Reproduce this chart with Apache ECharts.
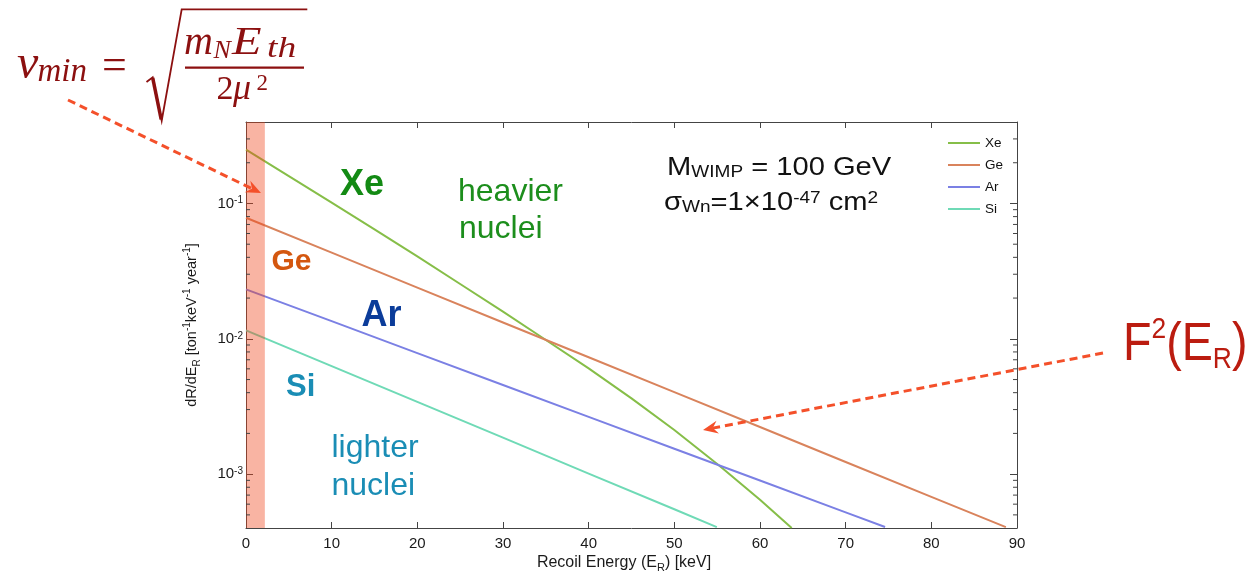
<!DOCTYPE html>
<html>
<head>
<meta charset="utf-8">
<script src="https://cdn.jsdelivr.net/npm/echarts@6/dist/echarts.min.js"></script>
<style>
  html, body { margin: 0; padding: 0; background: #fff; }
  #chart { width: 1260px; height: 575px; }
</style>
</head>
<body>
<div id="chart"></div>
<script>
// Differential WIMP recoil rate (M_WIMP = 100 GeV, sigma = 1e-47 cm^2)
// Recoil energy in keV, rate in events / (ton keV year)
const xeEnergy = [0, 5, 10, 15, 20, 25, 30, 34.7, 40, 45, 50, 55.3, 60, 63.7];
const xeRate   = [0.250, 0.159, 0.1015, 0.0643, 0.0406, 0.0254, 0.0159, 0.0101, 0.00605, 0.00363, 0.00212, 0.00115, 0.000648, 0.000400];

const geEnergy = [0, 10, 20, 30, 40, 50, 60, 70, 80, 88.7];
const geRate   = [0.0784, 0.0433, 0.0239, 0.0132, 0.00731, 0.00404, 0.00223, 0.00123, 0.00068, 0.000406];

const arEnergy = [0, 10, 20, 30, 40, 50, 60, 70, 74.6];
const arRate   = [0.0232, 0.0135, 0.00784, 0.00456, 0.00265, 0.00154, 0.000897, 0.000522, 0.000407];

const siEnergy = [0, 10, 20, 30, 40, 50, 54.96];
const siRate   = [0.01155, 0.00628, 0.00342, 0.00186, 0.00101, 0.00055, 0.000406];

// Threshold band (keV)
const thresholdBand = [0, 2.2];

// Axes
const xRange = [0, 90];
const xStep = 10;
const yRange = [4e-4, 0.4];
const minorTicks = [5e-4, 6e-4, 7e-4, 8e-4, 9e-4,
                    2e-3, 3e-3, 4e-3, 5e-3, 6e-3, 7e-3, 8e-3, 9e-3,
                    2e-2, 3e-2, 4e-2, 5e-2, 6e-2, 7e-2, 8e-2, 9e-2,
                    2e-1, 3e-1];

const seriesNames = ['Xe', 'Ge', 'Ar', 'Si'];
const seriesColors = ['#86be48', '#d9835c', '#7b80e4', '#6fdab6'];

const SANS = '"Liberation Sans", Arial, Helvetica, sans-serif';
const SERIF = '"Liberation Serif", "Times New Roman", serif';
const AXIS = '#444';
const ARROW = '#f4502a';
const FORMULA = '#8c1010';

const pairs = (xs, ys) => xs.map((x, i) => [x, ys[i]]);

function lineSeries(name, xs, ys, color) {
  return {
    name, type: 'line', data: pairs(xs, ys),
    symbol: 'none', smooth: false, z: 2,
    lineStyle: { color, width: 2, join: 'round' }, itemStyle: { color },
    silent: true
  };
}

// baseline -> middle of the em box, for canvas 'middle' drawing
const mid = (baseline, size) => baseline - 0.34 * size;

function txt(text, x, baseline, size, fill, bold) {
  return {
    type: 'text', x, y: mid(baseline, size), z: 100, silent: true,
    style: {
      text, fill, fontSize: size, fontFamily: SANS, lineHeight: size,
      fontWeight: bold ? 'bold' : 'normal',
      align: 'left', verticalAlign: 'middle'
    }
  };
}

function arrow(x1, y1, x2, y2) {
  const dx = x2 - x1, dy = y2 - y1, L = Math.hypot(dx, dy);
  const ux = dx / L, uy = dy / L, px = -uy, py = ux;
  const head = 15, half = 6.5, notch = 10;
  return [
    { type: 'line', z: 100, silent: true,
      shape: { x1, y1, x2: x2 - ux * notch, y2: y2 - uy * notch },
      style: { stroke: ARROW, lineWidth: 3, lineDash: [8, 5] } },
    { type: 'polygon', z: 100, silent: true,
      shape: { points: [
        [x2, y2],
        [x2 - ux * head + px * half, y2 - uy * head + py * half],
        [x2 - ux * notch, y2 - uy * notch],
        [x2 - ux * head - px * half, y2 - uy * head - py * half]
      ] },
      style: { fill: ARROW } }
  ];
}

function serif(text, x, baseline, size, italic, scaleX) {
  return {
    type: 'text', x, y: mid(baseline, size), z: 100, silent: true, scaleX: scaleX || 1,
    style: { text, fill: FORMULA, fontSize: size, fontFamily: SERIF,
             fontStyle: italic ? 'italic' : 'normal', lineHeight: size,
             align: 'left', verticalAlign: 'middle' }
  };
}

const graphic = [
  // v_min = sqrt(m_N E_th / 2 mu^2)
  serif('v', 17, 81.7, 48, true),
  serif('min', 37.5, 83.5, 33, true),
  serif('=', 102, 82, 44, false),
  { type: 'polyline', z: 100, silent: true,
    shape: { points: [[146.5, 82], [152.7, 77.3], [161.7, 120.7], [181.7, 9.3], [307.3, 9.3]] },
    style: { stroke: FORMULA, lineWidth: 1.8, fill: null, lineJoin: 'miter' } },
  { type: 'line', z: 100, silent: true,
    shape: { x1: 152.7, y1: 77.8, x2: 161.2, y2: 119.5 },
    style: { stroke: FORMULA, lineWidth: 3.5 } },
  serif('m', 184, 56.7, 40, true),
  serif('N', 213.5, 60.5, 26, true),
  serif('E', 232, 56.7, 41, true, 1.18),
  serif('th', 267, 59.5, 30, true, 1.25),
  { type: 'rect', z: 100, silent: true,
    shape: { x: 185, y: 66.6, width: 119, height: 2.2 }, style: { fill: FORMULA } },
  serif('2', 216.5, 101.7, 34, false),
  serif('\u03bc', 233, 101.7, 36, true),
  serif('2', 256.5, 91.5, 23, false),

  // arrows
  ...arrow(68, 100, 261, 193),
  ...arrow(1103, 353, 703, 430),

  // F^2(E_R)
  { type: 'text', x: 1123, y: 314.9, z: 100, silent: true, scaleX: 0.88,
    style: { text: 'F{p|2}(E{s|R})', fill: '#bb1c10', fontFamily: SANS, fontSize: 53,
             lineHeight: 60, align: 'left', verticalAlign: 'top',
             rich: { p: { fontSize: 30, lineHeight: 30, verticalAlign: 'top', fill: '#bb1c10', fontFamily: SANS },
                     s: { fontSize: 30, lineHeight: 40, verticalAlign: 'bottom', fill: '#bb1c10', fontFamily: SANS } } } },

  // benchmark parameters
  { type: 'text', x: 667, y: 154.7, z: 100, silent: true, scaleX: 1.12,
    style: { text: 'M{s|WIMP} = 100 GeV', fill: '#111', fontFamily: SANS, fontSize: 26,
             lineHeight: 26, align: 'left', verticalAlign: 'top',
             rich: { s: { fontSize: 17, lineHeight: 17, verticalAlign: 'bottom', fill: '#111', fontFamily: SANS } } } },
  { type: 'text', x: 664, y: 189.7, z: 100, silent: true, scaleX: 1.12,
    style: { text: '\u03c3{s|Wn}=1\u00d710{p|-47} cm{p|2}', fill: '#111', fontFamily: SANS, fontSize: 26,
             lineHeight: 26, align: 'left', verticalAlign: 'top',
             rich: { s: { fontSize: 17, lineHeight: 14, verticalAlign: 'bottom', fill: '#111', fontFamily: SANS },
                     p: { fontSize: 17, lineHeight: 17, verticalAlign: 'top', fill: '#111', fontFamily: SANS } } } },

  // nucleus labels
  txt('Xe', 340, 197.3, 36, '#138a14', true),
  txt('heavier', 458, 203.3, 32, '#1c8e1c'),
  txt('nuclei', 459, 240.3, 32, '#1c8e1c'),
  txt('Ge', 271.5, 271.7, 30, '#d4570f', true),
  txt('Ar', 361.5, 328.3, 36, '#0b3c9a', true),
  txt('Si', 286, 398.3, 31, '#1a8db5', true),
  txt('lighter', 331.5, 459.3, 32, '#1a8db5'),
  txt('nuclei', 331.5, 496.7, 32, '#1a8db5'),

  // axis titles
  { type: 'text', x: 624, y: 562.8, z: 100, silent: true,
    style: { text: 'Recoil Energy (E{s|R}) [keV]', fill: '#1a1a1a', fontFamily: SANS, fontSize: 16,
             lineHeight: 22, align: 'center', verticalAlign: 'middle',
             rich: { s: { fontSize: 11, lineHeight: 11, verticalAlign: 'bottom', fill: '#1a1a1a', fontFamily: SANS } } } },
  { type: 'text', x: 192, y: 325, z: 100, silent: true, rotation: Math.PI / 2,
    style: { text: 'dR/dE{s|R} [ton{p|-1}keV{p|-1} year{p|-1}]', fill: '#1a1a1a', fontFamily: SANS, fontSize: 14.5,
             lineHeight: 20, align: 'center', verticalAlign: 'middle',
             rich: { s: { fontSize: 10, lineHeight: 10, verticalAlign: 'bottom', fill: '#1a1a1a', fontFamily: SANS },
                     p: { fontSize: 10, lineHeight: 10, verticalAlign: 'top', fill: '#1a1a1a', fontFamily: SANS } } } }
];

const chart = echarts.init(document.getElementById('chart'), null, { renderer: 'canvas' });

const axisLineStyle = { show: true, onZero: false, lineStyle: { color: AXIS, width: 1 } };

chart.setOption({
  animation: false,
  backgroundColor: '#fff',
  grid: { left: 246, top: 122, width: 771, height: 406, containLabel: false },
  legend: {
    data: seriesNames.map((name) => ({ name, icon: 'rect' })),
    orient: 'vertical', left: 948, top: 136, padding: 0,
    itemWidth: 32, itemHeight: 2, itemGap: 8,
    textStyle: { fontFamily: SANS, fontSize: 13.5, color: '#111' },
    selectedMode: false
  },
  xAxis: [
    { type: 'value', min: xRange[0], max: xRange[1], interval: xStep, position: 'bottom',
      axisLine: axisLineStyle,
      axisTick: { show: true, inside: true, length: 6, lineStyle: { color: AXIS } },
      axisLabel: { show: true, margin: 8, fontFamily: SANS, fontSize: 15, color: '#1a1a1a' },
      splitLine: { show: false } },
    { type: 'value', min: xRange[0], max: xRange[1], interval: xStep, position: 'top',
      axisLine: axisLineStyle,
      axisTick: { show: true, inside: true, length: 6, lineStyle: { color: AXIS } },
      axisLabel: { show: false }, splitLine: { show: false } }
  ],
  yAxis: [
    { type: 'log', logBase: 10, min: yRange[0], max: yRange[1], position: 'left',
      axisLine: axisLineStyle,
      axisTick: { show: true, inside: true, length: 7, lineStyle: { color: AXIS } },
      axisLabel: {
        show: true, margin: 3, fontFamily: SANS, fontSize: 15, color: '#1a1a1a', lineHeight: 16,
        formatter: (v) => {
          const e = Math.log10(v);
          if (Math.abs(e - Math.round(e)) > 1e-6) return '';
          return '10{p|' + Math.round(e) + '}';
        },
        rich: { p: { fontSize: 10, lineHeight: 10, verticalAlign: 'top', color: '#1a1a1a', fontFamily: SANS } }
      },
      splitLine: { show: false } },
    { type: 'log', logBase: 10, min: yRange[0], max: yRange[1], position: 'right',
      axisLine: axisLineStyle,
      axisTick: { show: true, inside: true, length: 7, lineStyle: { color: AXIS } },
      axisLabel: { show: false }, splitLine: { show: false } }
  ],
  series: [
    lineSeries('Xe', xeEnergy, xeRate, seriesColors[0]),
    lineSeries('Ge', geEnergy, geRate, seriesColors[1]),
    lineSeries('Ar', arEnergy, arRate, seriesColors[2]),
    lineSeries('Si', siEnergy, siRate, seriesColors[3]),
    {
      // energy-threshold band, drawn translucent over the curves
      type: 'custom', name: 'threshold', silent: true, z: 10, clip: true,
      encode: { x: [0, 1] },
      data: [thresholdBand],
      renderItem: (params, api) => {
        const p0 = api.coord([api.value(0), yRange[1]]);
        const p1 = api.coord([api.value(1), yRange[0]]);
        return { type: 'rect',
          shape: { x: p0[0], y: p0[1], width: p1[0] - p0[0], height: p1[1] - p0[1] },
          style: { fill: 'rgba(240, 67, 25, 0.4)' } };
      }
    },
    {
      // minor log ticks on both vertical sides
      type: 'custom', name: 'minor', silent: true, z: 11, clip: false,
      data: minorTicks.map((v) => [xRange[0], v]),
      renderItem: (params, api) => {
        const v = api.value(1);
        const pl = api.coord([xRange[0], v]);
        const pr = api.coord([xRange[1], v]);
        const st = { stroke: AXIS, lineWidth: 1 };
        return { type: 'group', children: [
          { type: 'line', shape: { x1: pl[0], y1: pl[1], x2: pl[0] + 4, y2: pl[1] }, style: st },
          { type: 'line', shape: { x1: pr[0] - 4, y1: pr[1], x2: pr[0], y2: pr[1] }, style: st }
        ] };
      }
    }
  ],
  graphic: graphic
});
</script>
</body>
</html>
